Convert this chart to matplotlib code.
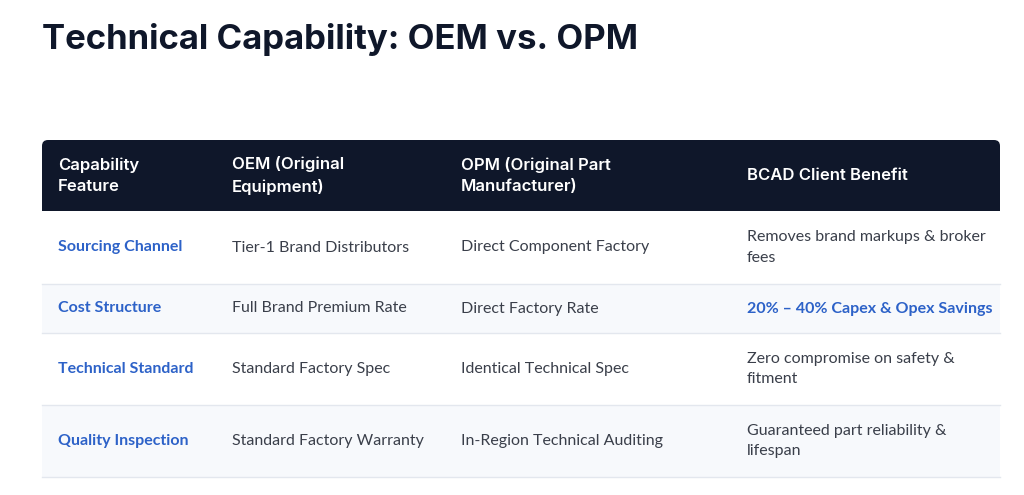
import matplotlib.pyplot as plt
from matplotlib.patches import FancyBboxPatch, Rectangle

title = "Technical Capability: OEM vs. OPM"
headers = ["Capability\nFeature", "OEM (Original\nEquipment)", "OPM (Original Part\nManufacturer)", "BCAD Client Benefit"]
features = ["Sourcing Channel", "Cost Structure", "Technical Standard", "Quality Inspection"]
oem = ["Tier-1 Brand Distributors", "Full Brand Premium Rate", "Standard Factory Spec", "Standard Factory Warranty"]
opm = ["Direct Component Factory", "Direct Factory Rate", "Identical Technical Spec", "In-Region Technical Auditing"]
benefit = ["Removes brand markups & broker\nfees", "20% – 40% Capex & Opex Savings",
           "Zero compromise on safety &\nfitment", "Guaranteed part reliability &\nlifespan"]
highlight = [False, True, False, False]

# layout in pixels
col_x = [58, 232, 461, 747]
left, right = 42, 1000
head_top, head_bot = 140, 211
row_edges = [211, 284, 333, 405, 477]

navy = "#0f172a"
blue = "#2d62c8"
text_c = "#3a3f4a"

fig = plt.figure(figsize=(10.24, 4.95), dpi=100)
ax = fig.add_axes([0, 0, 1, 1])
ax.set_xlim(0, 1024)
ax.set_ylim(495, 0)
ax.axis("off")

ax.text(42, 40, title, fontsize=25, fontweight="bold", family="Inter", color=navy, va="center")

# header block with rounded top
ax.add_patch(FancyBboxPatch((left, head_top), right - left, head_bot - head_top,
                            boxstyle="round,pad=0,rounding_size=6", fc=navy, ec="none"))
ax.add_patch(Rectangle((left, head_top + 20), right - left, head_bot - head_top - 20, fc=navy, ec="none"))
for x, h in zip(col_x, headers):
    ax.text(x, (head_top + head_bot) / 2, h, color="white", fontsize=12, fontweight="semibold",
            family="Inter", va="center", linespacing=1.5)

for i in range(len(features)):
    top, bot = row_edges[i], row_edges[i + 1]
    if i % 2 == 1:
        ax.add_patch(Rectangle((left, top), right - left, bot - top, fc="#f7f9fc", ec="none"))
    ax.plot([left, right], [bot, bot], color="#e3e7ee", lw=1)
    yc = (top + bot) / 2
    ax.text(col_x[0], yc, features[i], color=blue, fontsize=11.5, fontweight="bold", family="Lato", va="center")
    ax.text(col_x[1], yc, oem[i], color=text_c, fontsize=11.5, family="Lato", va="center")
    ax.text(col_x[2], yc, opm[i], color=text_c, fontsize=11.5, family="Lato", va="center")
    if highlight[i]:
        ax.text(col_x[3], yc, benefit[i], color=blue, fontsize=11.5, fontweight="bold", family="Lato", va="center")
    else:
        ax.text(col_x[3], yc, benefit[i], color=text_c, fontsize=11.5, family="Lato", va="center", linespacing=1.6)

fig.savefig("out.png", dpi=100, facecolor="white")
